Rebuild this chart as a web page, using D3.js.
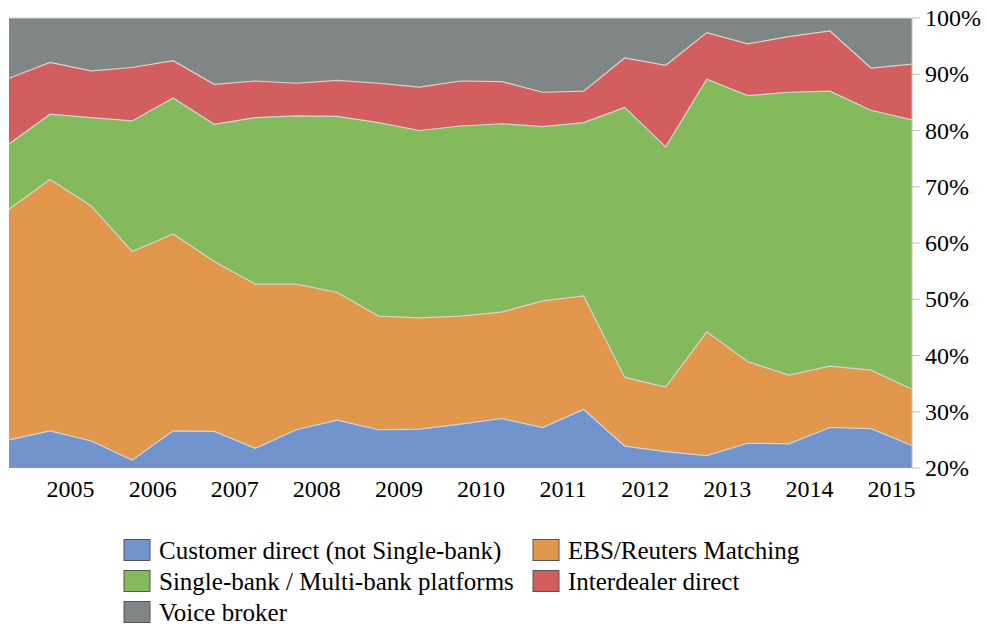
<!DOCTYPE html>
<html>
<head>
<meta charset="utf-8">
<script src="https://cdn.jsdelivr.net/npm/d3@7"></script>
<style>
  body { margin: 0; background: #fff; }
  svg text { font-family: "Liberation Serif", "Times New Roman", Times, "DejaVu Serif", serif; fill: #000; }
</style>
</head>
<body>
<div id="graf"></div>
<script>
// half-yearly observations, 23 points
const years = ["2005", "2006", "2007", "2008", "2009", "2010", "2011", "2012", "2013", "2014", "2015"];
const series = ["Customer direct (not Single-bank)", "EBS/Reuters Matching", "Single-bank / Multi-bank platforms", "Interdealer direct", "Voice broker"];

const customer = [25.0, 26.6, 24.8, 21.4, 26.6, 26.5, 23.5, 26.8, 28.5, 26.8, 26.9, 27.8, 28.8, 27.2, 30.4, 23.9, 22.9, 22.2, 24.4, 24.3, 27.2, 27.0, 24.0];
const ebs = [41.0, 44.7, 41.8, 37.1, 35.0, 30.2, 29.2, 25.9, 22.7, 20.2, 19.8, 19.2, 18.9, 22.5, 20.2, 12.2, 11.5, 22.0, 14.5, 12.2, 10.9, 10.4, 10.0];
const platforms = [11.6, 11.6, 15.7, 23.2, 24.2, 24.4, 29.6, 29.9, 31.3, 34.4, 33.3, 33.8, 33.5, 31.0, 30.8, 48.0, 42.7, 44.9, 47.3, 50.3, 48.9, 46.2, 47.9];
const interdealer = [11.7, 9.2, 8.3, 9.5, 6.6, 7.1, 6.5, 5.8, 6.4, 7.0, 7.7, 8.0, 7.5, 6.1, 5.6, 8.8, 14.5, 8.3, 9.2, 9.9, 10.7, 7.5, 9.9];
const voice = [10.7, 7.9, 9.4, 8.8, 7.6, 11.8, 11.2, 11.6, 11.1, 11.6, 12.3, 11.2, 11.3, 13.2, 13.0, 7.1, 8.4, 2.6, 4.6, 3.3, 2.3, 8.9, 8.2];

const yTicks = [20, 30, 40, 50, 60, 70, 80, 90, 100];
const colors = ["#7293CB", "#E1974C", "#84BA5B", "#D35E60", "#808585"];

const fuente = '"Liberation Serif", "Times New Roman", Times, "DejaVu Serif", serif';

const ancho_total = 987;
const alto_total = 626;
const margins = { top: 18, left: 9, right: 75, bottom: 158 };
const ancho = ancho_total - margins.left - margins.right;
const alto = alto_total - margins.top - margins.bottom;

const cols = [customer, ebs, platforms, interdealer, voice];
const data = customer.map((_, i) => {
  const row = { i: i };
  series.forEach((s, k) => (row[s] = cols[k][i]));
  return row;
});

const svg = d3
  .select("#graf")
  .append("svg")
  .attr("width", ancho_total)
  .attr("height", alto_total)
  .attr("font-family", fuente);

const g = svg.append("g").attr("transform", `translate(${margins.left}, ${margins.top})`);

const x = d3.scaleLinear().domain([0, customer.length - 1]).range([0, ancho]);
const y = d3.scaleLinear().domain([20, 100]).range([alto, 0]).clamp(true);

const stacked = d3.stack().keys(series)(data);

const area = d3
  .area()
  .x((d) => x(d.data.i))
  .y0((d) => y(d[0]))
  .y1((d) => y(d[1]));

const topLine = d3
  .line()
  .x((d) => x(d.data.i))
  .y((d) => y(d[1]));

g.selectAll(".capa")
  .data(stacked)
  .enter()
  .append("path")
  .attr("class", "capa")
  .attr("d", area)
  .style("fill", (d, k) => colors[k]);

g.selectAll(".borde")
  .data(stacked)
  .enter()
  .append("path")
  .attr("class", "borde")
  .attr("d", topLine)
  .style("fill", "none")
  .style("stroke", "#d4d4d4")
  .style("stroke-width", 1.2);

// right axis
const ejeY = g.append("g").attr("transform", `translate(${ancho}, 0)`);
ejeY.append("line").attr("y1", 0).attr("y2", alto).style("stroke", "#c0c0c0");
ejeY
  .selectAll(".tick")
  .data(yTicks)
  .enter()
  .append("g")
  .attr("transform", (d) => `translate(0, ${y(d)})`)
  .each(function (d) {
    const t = d3.select(this);
    t.append("line").attr("x2", 8).style("stroke", "#c0c0c0");
    t.append("text")
      .attr("x", 13)
      .attr("dy", "0.34em")
      .style("font-family", fuente)
      .style("font-size", "24px")
      .text(d + "%");
  });

// year labels, between the two observations of each year
g.selectAll(".anio")
  .data(years)
  .enter()
  .append("text")
  .attr("class", "anio")
  .attr("x", (d, k) => x(1.5 + 2 * k))
  .attr("y", alto + 29)
  .attr("text-anchor", "middle")
  .style("font-family", fuente)
  .style("font-size", "24px")
  .text((d) => d);

// legend
const leyenda = svg
  .selectAll(".leyenda")
  .data(series)
  .enter()
  .append("g")
  .attr("class", "leyenda")
  .attr("transform", (d, k) => `translate(${k % 2 === 0 ? 124 : 533}, ${550 + Math.floor(k / 2) * 31})`);

leyenda
  .append("rect")
  .attr("x", 0)
  .attr("y", -10.5)
  .attr("width", 26)
  .attr("height", 21)
  .style("fill", (d) => colors[series.indexOf(d)])
  .style("stroke", "#555")
  .style("stroke-width", 1);

leyenda
  .append("text")
  .attr("x", 35)
  .attr("dy", "0.34em")
  .style("font-family", fuente)
  .style("font-size", "25px")
  .text((d) => d);
</script>
</body>
</html>
